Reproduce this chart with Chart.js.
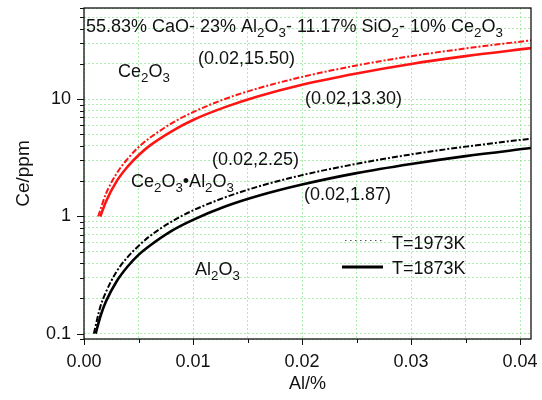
<!DOCTYPE html>
<html><head><meta charset="utf-8">
<script src="https://cdn.jsdelivr.net/npm/chart.js@4.4.1/dist/chart.umd.min.js"></script>
<style>html,body{margin:0;padding:0;background:#fff}#wrap{width:542px;height:400px;position:relative}</style>
</head><body><div id="wrap"><canvas id="c" width="542" height="400"></canvas></div>
<script>
// ---- data ----
const alRed1873 = [0.0015, 0.002, 0.003, 0.004, 0.005, 0.006, 0.008, 0.010, 0.013, 0.016, 0.020, 0.025, 0.030, 0.035, 0.041];
const ceRed1873 = [1.0, 1.33, 2.0, 2.66, 3.33, 4.0, 5.3, 6.65, 8.6, 10.6, 13.3, 16.6, 20.0, 23.3, 27.3];
const alRed1973 = [0.0013, 0.002, 0.003, 0.004, 0.005, 0.006, 0.008, 0.010, 0.013, 0.016, 0.020, 0.025, 0.030, 0.035, 0.041];
const ceRed1973 = [1.0, 1.55, 2.33, 3.1, 3.9, 4.65, 6.2, 7.75, 10.1, 12.4, 15.5, 19.4, 23.3, 27.1, 31.8];
const alBlk1873 = [0.00107, 0.0015, 0.002, 0.003, 0.004, 0.005, 0.006, 0.008, 0.010, 0.013, 0.016, 0.020, 0.025, 0.030, 0.035, 0.041];
const ceBlk1873 = [0.1, 0.14, 0.187, 0.28, 0.374, 0.47, 0.56, 0.75, 0.935, 1.22, 1.5, 1.87, 2.34, 2.8, 3.27, 3.83];
const alBlk1973 = [0.0009, 0.0015, 0.002, 0.003, 0.004, 0.005, 0.006, 0.008, 0.010, 0.013, 0.016, 0.020, 0.025, 0.030, 0.035, 0.041];
const ceBlk1973 = [0.1, 0.17, 0.225, 0.34, 0.45, 0.56, 0.675, 0.9, 1.125, 1.46, 1.8, 2.25, 2.81, 3.38, 3.94, 4.61];
const xTickLabels = ['0.00', '0.01', '0.02', '0.03', '0.04'];
const yTickLabels = ['0.1', '1', '10'];
const seriesNames = ['T=1973K', 'T=1873K'];
const titleText = '55.83% CaO- 23% Al_2O_3- 11.17% SiO_2- 10% Ce_2O_3';

const FONT = '"Liberation Sans", Arial, sans-serif';
const pts = (xs, ys) => xs.map((x, i) => ({x, y: ys[i]}));
const isMult = (v, s) => Math.abs(v / s - Math.round(v / s)) < 1e-6;

function drawRich(ctx, str, x, y, size) {
  const runs = [];
  for (let i = 0; i < str.length; i++) {
    if (str[i] === '_') { runs.push({t: str[i + 1], sub: true}); i++; }
    else if (runs.length && !runs[runs.length - 1].sub) runs[runs.length - 1].t += str[i];
    else runs.push({t: str[i], sub: false});
  }
  ctx.textBaseline = 'alphabetic'; ctx.textAlign = 'left'; ctx.fillStyle = '#111';
  let cx = x;
  for (const r of runs) {
    const s = r.sub ? size * 0.74 : size;
    ctx.font = s + 'px ' + FONT;
    ctx.fillText(r.t, cx, r.sub ? y + size * 0.3 : y);
    cx += ctx.measureText(r.t).width;
  }
}

const deco = {
  id: 'deco',
  afterDraw(chart) {
    const {ctx, chartArea: a, scales} = chart;
    ctx.save();
    ctx.strokeStyle = '#111'; ctx.lineWidth = 1.3; ctx.setLineDash([]);
    ctx.strokeRect(a.left, a.top, a.right - a.left, a.bottom - a.top);
    ctx.lineWidth = 1;
    for (const t of scales.y.ticks) {
      const v = t.value; const e = Math.floor(Math.log10(v) + 1e-9); const m = v / Math.pow(10, e);
      if (Math.abs(m - Math.round(m)) > 1e-6) continue;
      const py = Math.round(scales.y.getPixelForValue(v)) + 0.5;
      const len = Math.abs(m - 1) < 1e-6 ? 7 : 4;
      ctx.beginPath(); ctx.moveTo(a.left, py); ctx.lineTo(a.left - len, py); ctx.stroke();
    }
    for (const t of scales.x.ticks) {
      const v = t.value;
      if (!isMult(v, 0.005)) continue;
      const px = Math.round(scales.x.getPixelForValue(v)) + 0.5;
      const len = isMult(v, 0.01) ? 6 : 4;
      ctx.beginPath(); ctx.moveTo(px, a.bottom); ctx.lineTo(px, a.bottom + len); ctx.stroke();
    }
    drawRich(ctx, titleText, 86, 32, 18);
    drawRich(ctx, 'Ce_2O_3', 118, 77, 18);
    drawRich(ctx, '(0.02,15.50)', 198, 64, 18);
    drawRich(ctx, '(0.02,13.30)', 305, 104, 18);
    drawRich(ctx, '(0.02,2.25)', 212, 165, 18);
    drawRich(ctx, 'Ce_2O_3•Al_2O_3', 131, 187, 18);
    drawRich(ctx, '(0.02,1.87)', 304, 200, 18);
    drawRich(ctx, 'Al_2O_3', 195, 275, 18);
    ctx.strokeStyle = '#555'; ctx.lineWidth = 1.2; ctx.setLineDash([1.5, 3.5]);
    ctx.beginPath(); ctx.moveTo(345, 240.5); ctx.lineTo(383, 240.5); ctx.stroke();
    ctx.strokeStyle = '#000'; ctx.lineWidth = 3; ctx.setLineDash([]);
    ctx.beginPath(); ctx.moveTo(342, 267); ctx.lineTo(383, 267); ctx.stroke();
    drawRich(ctx, seriesNames[0], 392, 249, 18);
    drawRich(ctx, seriesNames[1], 392, 274, 18);
    ctx.restore();
  }
};

const noPad = s => { s.paddingTop = 0; s.paddingBottom = 0; s.paddingLeft = 0; s.paddingRight = 0; };

new Chart(document.getElementById('c'), {
  type: 'scatter',
  data: {
    datasets: [
      {label: 'Ce2O3/Ce2O3·Al2O3 ' + seriesNames[1], data: pts(alRed1873, ceRed1873), borderColor: '#ff1414', borderWidth: 2.6},
      {label: 'Ce2O3/Ce2O3·Al2O3 ' + seriesNames[0], data: pts(alRed1973, ceRed1973), borderColor: '#ff1414', borderWidth: 2, borderDash: [6, 2, 2, 2]},
      {label: 'Ce2O3·Al2O3/Al2O3 ' + seriesNames[1], data: pts(alBlk1873, ceBlk1873), borderColor: '#000', borderWidth: 2.6},
      {label: 'Ce2O3·Al2O3/Al2O3 ' + seriesNames[0], data: pts(alBlk1973, ceBlk1973), borderColor: '#000', borderWidth: 2, borderDash: [6, 2, 2, 2]}
    ].map(d => Object.assign(d, {showLine: true, pointRadius: 0, fill: false, cubicInterpolationMode: 'monotone'}))
  },
  options: {
    responsive: false, animation: false, devicePixelRatio: 1,
    layout: {padding: {top: 8, right: 11, left: 0, bottom: 0}},
    plugins: {legend: {display: false}, tooltip: {enabled: false}},
    scales: {
      x: {
        type: 'linear', min: 0, max: 0.041,
        afterFit: s => { s.height = 61; noPad(s); },
        ticks: {stepSize: 0.005, includeBounds: false, padding: 12, color: '#111', font: {family: FONT, size: 18},
          autoSkip: false, maxRotation: 0,
          callback: v => { const i = Math.round(v / 0.01); return (isMult(v, 0.01) && xTickLabels[i]) ? xTickLabels[i] : ''; }},
        grid: {drawTicks: false, lineWidth: 1,
          color: c => (c.tick && isMult(c.tick.value, 0.005)) ? 'rgba(110,220,110,0.55)' : 'rgba(0,0,0,0)'},
        border: {display: false, dash: [2, 2]},
        title: {display: true, text: 'Al/%', color: '#111', font: {family: FONT, size: 18}, padding: {top: 0, bottom: 5}}
      },
      y: {
        type: 'logarithmic', min: 0.09, max: 60,
        afterFit: s => { s.width = 84; noPad(s); },
        afterBuildTicks: s => {
          s.ticks = s.ticks.filter(t => { const e = Math.floor(Math.log10(t.value) + 1e-9); const m = t.value / Math.pow(10, e); return Math.abs(m - Math.round(m)) < 1e-6; });
        },
        ticks: {padding: 13, color: '#111', font: {family: FONT, size: 18}, autoSkip: false,
          callback: v => { const i = Math.round(Math.log10(v)) + 1; return (Math.abs(Math.log10(v) - Math.round(Math.log10(v))) < 1e-6 && yTickLabels[i]) ? yTickLabels[i] : ''; }},
        grid: {drawTicks: false, lineWidth: 1, color: 'rgba(110,220,110,0.55)'},
        border: {display: false, dash: [2, 2]},
        title: {display: true, text: 'Ce/ppm', color: '#111', font: {family: FONT, size: 19}, padding: {top: 12, bottom: 0}}
      }
    }
  },
  plugins: [deco]
});
</script></body></html>
